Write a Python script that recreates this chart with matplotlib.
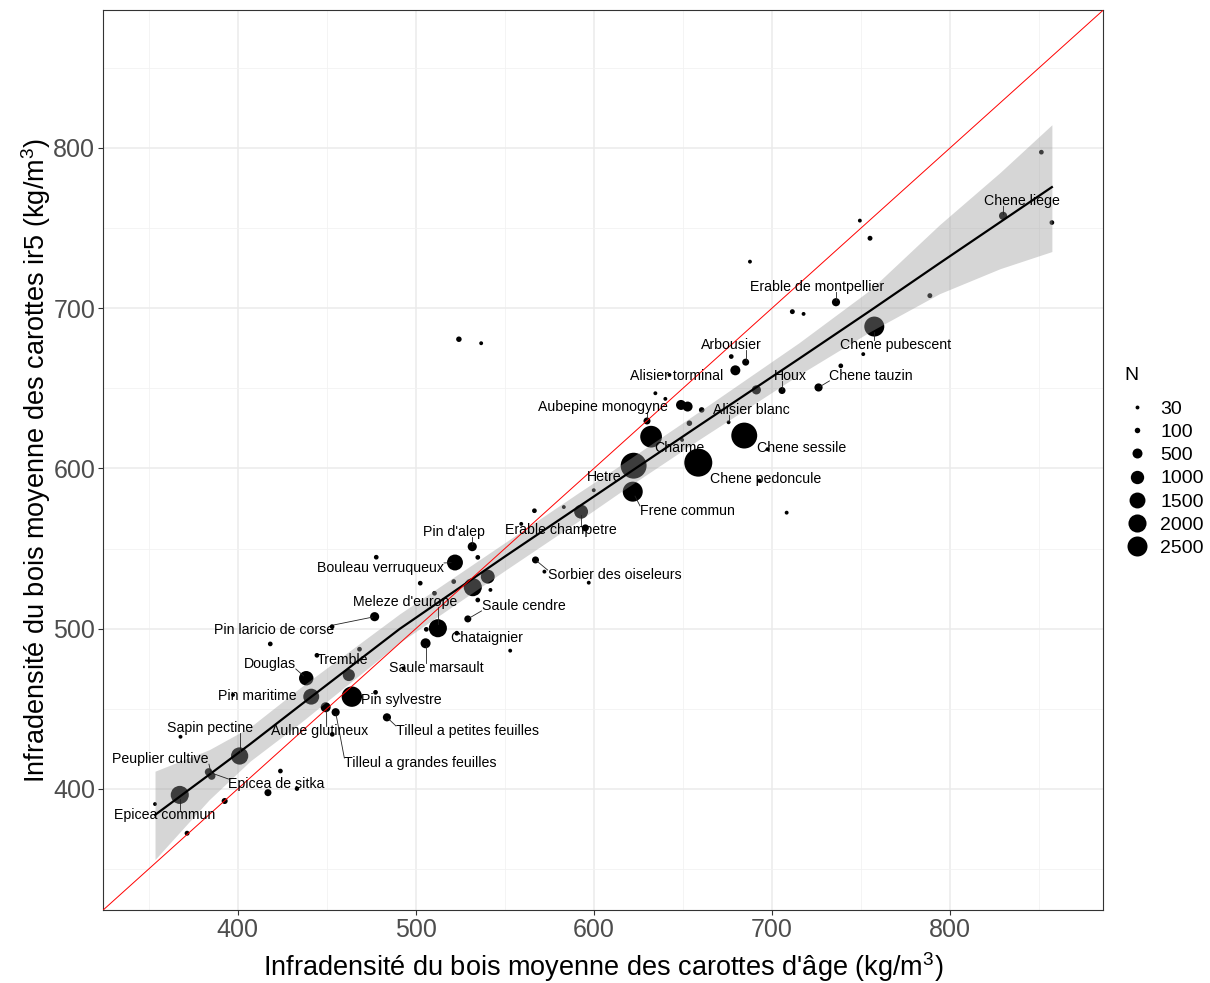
import numpy as np
import matplotlib.pyplot as plt
from matplotlib.lines import Line2D

plt.rcParams['font.family'] = ['Liberation Sans', 'DejaVu Sans']
plt.rcParams['mathtext.fontset'] = 'custom'
plt.rcParams['mathtext.rm'] = 'Liberation Sans'

# one entry per species (empty name = no label)
species = [
    '', 'Epicea commun', '', '', 'Peuplier cultive', 'Epicea de sitka', '', 'Sapin pectine',
    '', '', '', 'Pin maritime', '', 'Douglas', '', 'Tremble', '', '', 'Pin sylvestre', '',
    'Aulne glutineux', 'Tilleul a grandes feuilles', '', 'Tilleul a petites feuilles', '',
    'Pin laricio de corse', '', '', '', "Meleze d'europe", '', 'Chataignier', 'Saule marsault',
    '', '', 'Saule cendre', '', "Pin d'alep", '', 'Bouleau verruqueux', '', '', '', '',
    '', '', '', 'Erable champetre', '', 'Sorbier des oiseleurs', '', '', '', '', '',
    'Frene commun', 'Hetre', 'Charme', 'Aubepine monogyne', '', '', 'Alisier torminal', '',
    '', '', '', '', 'Alisier blanc', 'Chene sessile', '', 'Chene pedoncule', '', '', '',
    'Arbousier', '', '', 'Houx', 'Chene tauzin', '', '', 'Chene pubescent',
    'Erable de montpellier', '', '', '', '', '', '', 'Chene liege', '', '',
]
age_density = [
    353.6, 367.5, 371.6, 367.9, 385.4, 383.7, 392.7, 401.1,
    417.0, 424.0, 433.3, 397.4, 418.3, 438.5, 441.3, 444.5, 468.4, 462.4, 464.1, 477.4,
    449.4, 455.0, 453.1, 483.8, 453.0,
    476.9, 477.8, 502.5, 510.5, 512.4, 505.9, 523.0, 505.5,
    493.1, 553.0, 529.2, 534.8, 531.7, 534.8, 522.0, 521.3, 540.4, 532.0, 541.9,
    566.6, 559.2, 583.1, 592.8, 595.2, 567.2, 572.2, 597.1, 599.9, 524.2, 536.7,
    621.8, 622.3, 632.1, 629.8, 634.5, 640.1, 642.4, 648.9,
    652.6, 660.5, 653.6, 649.5, 675.6, 684.4, 697.5, 658.6, 692.9, 708.2, 677.1,
    685.2, 679.4, 691.2, 705.6, 726.1, 738.6, 751.2, 757.4,
    735.9, 711.4, 717.7, 687.6, 749.3, 755.0, 788.6, 829.7, 851.2, 857.1,
]
ir5_density = [
    390.6, 396.3, 372.4, 432.6, 408.1, 410.6, 392.5, 420.6,
    397.7, 411.2, 400.2, 458.7, 490.5, 469.1, 457.6, 483.4, 487.2, 471.1, 457.6, 460.3,
    451.0, 447.9, 434.1, 444.7, 501.3,
    507.5, 544.6, 528.4, 522.1, 500.3, 499.6, 497.2, 490.9,
    475.3, 486.3, 506.1, 517.9, 551.2, 544.5, 541.3, 529.4, 532.5, 525.9, 524.2,
    573.6, 565.4, 575.9, 573.0, 562.9, 542.9, 535.6, 528.7, 586.4, 680.6, 678.1,
    585.5, 601.7, 619.8, 629.6, 646.9, 643.4, 658.3, 639.6,
    638.6, 636.5, 628.2, 617.8, 628.8, 620.5, 612.0, 603.6, 592.4, 572.4, 669.8,
    666.3, 661.2, 649.0, 648.6, 650.5, 664.0, 671.3, 688.5,
    703.7, 697.8, 696.4, 729.0, 754.6, 743.6, 707.8, 757.6, 797.3, 753.4,
]
n_cores = [
    30, 2000, 70, 30, 250, 250, 130, 1800,
    200, 60, 50, 30, 60, 1200, 1500, 60, 60, 800, 2600, 60,
    500, 300, 60, 300, 60,
    400, 60, 60, 60, 2000, 60, 60, 500,
    30, 30, 200, 60, 400, 60, 1500, 60, 1100, 2000, 30,
    60, 30, 30, 1100, 200, 200, 30, 30, 30, 100, 30,
    2500, 4400, 3000, 200, 30, 30, 30, 500,
    500, 100, 100, 30, 30, 4400, 30, 5200, 30, 30, 60,
    200, 500, 400, 200, 300, 60, 30, 2500,
    300, 70, 30, 30, 30, 70, 70, 300, 60, 60,
]

# where ggrepel put the labels
label_pos = {
    'Chene liege': (840.4, 766.9), 'Erable de montpellier': (725.4, 713.3),
    'Chene pubescent': (769.1, 677.1), 'Arbousier': (677.1, 677.1),
    'Alisier torminal': (646.3, 657.7), 'Houx': (710.2, 657.7),
    'Chene tauzin': (755.7, 657.7), 'Aubepine monogyne': (605.3, 638.4),
    'Alisier blanc': (688.4, 636.5), 'Chene sessile': (716.4, 612.7),
    'Charme': (648.0, 612.7), 'Hetre': (605.9, 594.7),
    'Chene pedoncule': (696.2, 593.5), 'Frene commun': (652.5, 573.5),
    "Pin d'alep": (521.2, 560.4), 'Erable champetre': (581.2, 561.6),
    'Bouleau verruqueux': (480.2, 537.9), 'Sorbier des oiseleurs': (611.5, 533.5),
    "Meleze d'europe": (494.2, 516.7), 'Saule cendre': (560.4, 514.2),
    'Pin laricio de corse': (420.2, 499.2), 'Chataignier': (539.7, 494.2),
    'Douglas': (418.0, 478.0), 'Tremble': (458.9, 480.5),
    'Saule marsault': (511.6, 475.5), 'Pin maritime': (411.2, 458.0),
    'Pin sylvestre': (492.0, 455.5), 'Sapin pectine': (384.3, 438.1),
    'Aulne glutineux': (446.0, 436.2), 'Tilleul a petites feuilles': (529.0, 436.2),
    'Peuplier cultive': (356.8, 418.6), 'Tilleul a grandes feuilles': (502.7, 416.2),
    'Epicea de sitka': (421.9, 403.1), 'Epicea commun': (359.0, 383.8),
}

# smoother
smooth_x = [353.6, 384, 407, 435, 491, 550, 592, 614, 659, 715, 755, 794, 828, 857.1]
smooth_y = [383.8, 408.9, 428.0, 452.1, 499.9, 545.0, 576.5, 593.0, 626.7, 668.3, 698.3, 728.0, 753.6, 775.5]
smooth_lo = [356.0, 393.3, 417.4, 441.1, 491.4, 536.3, 567.7, 584.6, 618.0, 658.3, 685.3, 709.0, 724.6, 735.3]
smooth_hi = [411.1, 424.5, 438.6, 463.1, 509.3, 553.7, 585.3, 601.4, 635.4, 678.3, 711.3, 752.0, 784.6, 814.4]

legend_n = [30, 100, 500, 1000, 1500, 2000, 2500]


def radius_px(n):
    return 0.95 + 0.181 * np.sqrt(n)


fig = plt.figure(figsize=(12.1, 9.83), dpi=100)
ax = fig.add_axes([103 / 1210, 73 / 983, 1000 / 1210, 900 / 983])

ax.set_xlim(324.4, 885.8)
ax.set_ylim(324.5, 886.0)

r = radius_px(np.array(n_cores))
ax.scatter(age_density, ir5_density, s=(1.44 * r) ** 2, c='black', linewidths=0, zorder=2)
ax.fill_between(smooth_x, smooth_lo, smooth_hi, color='#999999', alpha=0.4, linewidth=0, zorder=3)
ax.plot(smooth_x, smooth_y, color='black', lw=1.6, zorder=4)
ax.axline((400, 400), slope=1, color='red', lw=0.7, zorder=5)

# grid / theme_bw
ax.set_xticks([400, 500, 600, 700, 800])
ax.set_yticks([400, 500, 600, 700, 800])
ax.set_xticks([350, 450, 550, 650, 750, 850], minor=True)
ax.set_yticks([350, 450, 550, 650, 750, 850], minor=True)
ax.grid(which='major', color='#EBEBEB', lw=1.1, zorder=0)
ax.grid(which='minor', color='#F2F2F2', lw=0.6, zorder=0)
ax.set_axisbelow(True)
ax.tick_params(which='major', length=3.5, color='#333333', labelsize=18, labelcolor='#4D4D4D', pad=2)
ax.tick_params(which='minor', length=0)
for s in ax.spines.values():
    s.set_color('#333333')
    s.set_linewidth(0.8)

ax.set_xlabel("Infradensité du bois moyenne des carottes d'âge (kg/m$^{\\mathregular{3}}$)", fontsize=19.5, labelpad=6)
ax.set_ylabel("Infradensité du bois moyenne des carottes ir5 (kg/m$^{\\mathregular{3}}$)", fontsize=19.5, labelpad=0)

# labels
texts = []
for name, x, y, rr in zip(species, age_density, ir5_density, r):
    if name:
        lx, ly = label_pos[name]
        t = ax.text(lx, ly, name, fontsize=10.2, ha='center', va='center', zorder=7)
        texts.append((t, x, y, rr))

fig.canvas.draw()
renderer = fig.canvas.get_renderer()
inv = ax.transData.inverted()
for t, x, y, rr in texts:
    bb = t.get_window_extent(renderer)
    px, py = ax.transData.transform((x, y))
    cx = min(max(px, bb.x0), bb.x1)
    cy = min(max(py, bb.y0 + 2), bb.y1 - 2)
    d = np.hypot(px - cx, py - cy)
    if d - rr > 3:
        ex = px - (px - cx) / d * rr * 0.5
        ey = py - (py - cy) / d * rr * 0.5
        (x0, y0), (x1, y1) = inv.transform([(cx, cy), (ex, ey)])
        ax.plot([x0, x1], [y0, y1], color='#222222', lw=0.6, zorder=6)

# size legend
fig.text(1124 / 1210, 1 - 376 / 983, 'N', fontsize=14, ha='left', va='center')
handles = [Line2D([], [], ls='', marker='o', color='black', markeredgewidth=0,
                  markersize=2 * radius_px(n) * 0.72) for n in legend_n]
fig.legend(handles, [str(n) for n in legend_n], loc='upper left',
           bbox_to_anchor=(1127 / 1210, 1 - 400 / 983), frameon=False,
           fontsize=14, labelspacing=0.29, handlelength=1.0,
           handletextpad=0.7, borderpad=0, borderaxespad=0)

fig.savefig('out.png', dpi=100)
